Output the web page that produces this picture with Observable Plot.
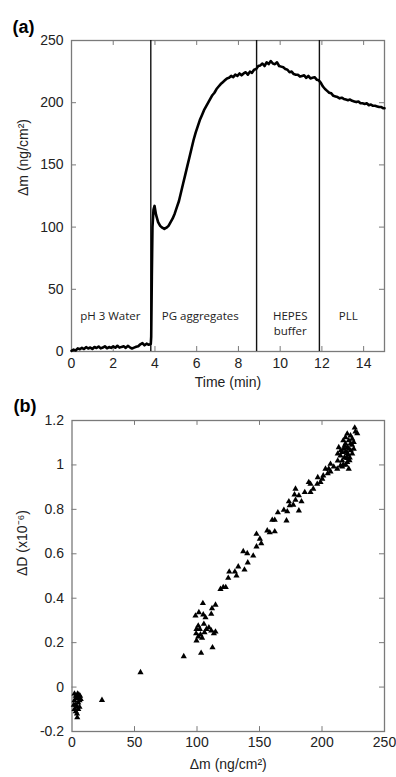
<!DOCTYPE html>
<html><head><meta charset="utf-8">
<script src="https://cdn.jsdelivr.net/npm/d3@7"></script>
<script src="https://cdn.jsdelivr.net/npm/@observablehq/plot@0.6"></script>
<style>
body{margin:0;background:#fff;}
#wrap{position:relative;width:396px;height:777px;overflow:hidden;background:#fff;}
#pa{position:absolute;left:0;top:0;}
#pb{position:absolute;left:0;top:380px;}
</style></head><body><div id="wrap"><div id="pb"></div><div id="pa"></div></div>
<script>
// ---------- Panel (a): mass vs time ----------
const timeMin = [0,0.1,0.2,0.3,0.4,0.5,0.6,0.7,0.8,0.9,1.0,1.1,1.2,1.3,1.4,1.5,1.6,1.7,1.8,1.9,2.0,2.1,2.2,2.3,2.4,2.5,2.6,2.7,2.8,2.9,3.0,3.1,3.2,3.3,3.4,3.5,3.6,3.7,3.8,
3.82,3.85,3.88,3.93,3.98,4.05,4.15,4.25,4.35,4.45,4.55,4.65,4.75,4.85,4.95,5.05,5.15,5.25,5.35,5.45,5.55,5.65,5.75,5.85,5.95,6.05,6.15,6.25,6.35,6.45,6.55,6.65,6.75,6.85,6.95,7.05,7.15,7.25,7.35,7.45,7.55,7.65,7.75,7.85,7.95,8.05,8.15,8.25,8.35,8.45,8.55,8.65,8.75,8.85,8.95,9.05,9.15,9.25,9.35,9.45,9.55,9.65,9.75,9.85,9.95,10.05,10.15,10.25,10.35,10.45,10.55,10.65,10.75,10.85,10.95,11.05,11.15,11.25,11.35,11.45,11.55,11.65,11.75,11.85,11.95,12.05,12.15,12.25,12.35,12.45,12.55,12.65,12.75,12.85,12.95,13.05,13.15,13.25,13.35,13.45,13.55,13.65,13.75,13.85,13.95,14.05,14.15,14.25,14.35,14.45,14.55,14.65,14.75,14.85,14.95,15.0];
const massNg = [0.5,1.5,0.8,2.5,1.8,3,2,3.5,2.4,3.2,2,3.6,2.8,4,2.5,3.2,4.2,2.6,3.6,2.9,4.1,3,4.6,3.1,3.7,4.2,2.9,4.5,3.4,2.4,3.1,3.8,4.2,5.8,6.8,5,6.3,5.4,6.1,
12,60,100,114,117,110,104,101,99.5,98.5,99.5,101,104,107,111,116,121,128,135,142,149,156,163,170,176,181,186,190,194,197,200,203,206,208,211,213,215,216.5,218,219.5,220,221.5,220.5,222.5,221.5,223.5,222,223.5,224.5,222.5,225,224,226.5,227,229.5,230,231.5,229.5,232.5,231,233.5,231.5,231,232.5,229.5,229,228.5,227,226.5,224.5,225,223,222.5,222.5,221,221.5,222,220,221.5,219.5,220,220.5,218.5,218,216,213,211,209.5,208,207.5,205.5,205,204.5,203.5,204,203,202.5,202,202.5,201.5,201,200.5,201,199.5,199.5,199,199.5,198,198.5,197.5,197.5,197,196.5,196.5,195.5,195.5,195];
const stepTimes = [3.8, 8.87, 11.88];
const phaseText = ["pH 3 Water","PG aggregates","HEPES","buffer","PLL"];
const phaseX = [1.86, 6.17, 10.48, 10.48, 13.26];
const phaseY = [28, 28, 28, 16.3, 28];
const xTicksA = [0,2,4,6,8,10,12,14];
const yTicksA = [0,50,100,150,200,250];

// ---------- Panel (b): dissipation vs mass ----------
const scatterDm = [2,3,4.5,5,6.5,2,3,5,6,4,2,3,5,4,4.2,6,3.5,7,1.5,5.5,
24,54.8,89.4,
103.3,112.4,104.7,114.8,112,101.5,98.8,105,106.8,111.4,105.5,101,99.6,102.3,109.5,111.4,114.8,113.5,106,99.3,101,104.1,99.6,102.8,107.6,
118.8,121,123,125,125.8,130.3,131.6,133,138,140.6,
137,140.2,145,147.6,151.4,150.3,147.6,156.2,158.2,162.2,160.2,162.2,171.6,164.7,169.5,172.2,174.2,177,181.5,173.5,178.8,183.6,178,181.5,178.8,186.2,190.8,193,189.4,190.8,196.2,198.8,196.6,200.2,201,204.6,206.8,
202.8,206.8,209.4,212.2,205.4,
226.2,228.2,220.2,222.8,224.2,221.4,218.8,222.8,213.4,217.4,221.4,225.4,216.2,220.2,224.2,214.8,218,222.2,216.2,220.2,217,221.4,216.2,212.6,212.6,220.2,225.4,218.8,
219,221,223,218,222,220,224,219,215,217,226.8,214.8];
const scatterDD = [-0.03,-0.04,-0.03,-0.05,-0.04,-0.06,-0.08,-0.07,-0.06,-0.09,-0.1,-0.11,-0.1,-0.12,-0.137,-0.09,-0.05,-0.055,-0.08,-0.035,
-0.059,0.066,0.138,
0.153,0.178,0.377,0.37,0.354,0.336,0.321,0.326,0.313,0.329,0.284,0.276,0.261,0.261,0.268,0.254,0.249,0.241,0.246,0.241,0.227,0.221,0.209,0.236,0.261,
0.441,0.449,0.449,0.491,0.519,0.519,0.501,0.542,0.528,0.56,
0.611,0.602,0.591,0.632,0.647,0.667,0.689,0.704,0.696,0.7,0.752,0.752,0.749,0.786,0.797,0.79,0.817,0.82,0.794,0.835,0.842,0.835,0.866,0.862,0.892,0.877,0.877,0.892,0.922,0.914,0.914,0.922,0.944,0.937,0.952,0.962,0.97,
0.982,1.004,0.992,0.982,0.982,
1.167,1.142,1.14,1.132,1.117,1.11,1.095,1.095,1.079,1.072,1.072,1.072,1.057,1.052,1.05,1.042,1.034,1.032,1.019,1.012,1.001,0.982,0.992,1.05,1.019,1.079,1.102,1.124,
1.06,1.045,1.065,1.085,1.02,1.03,1.09,1.0,1.065,1.11,1.15,0.997];
const xTicksB = [0,50,100,150,200,250];
const yTicksB = [-0.2,0,0.2,0.4,0.6,0.8,1,1.2];

const axisFont = "'Liberation Sans', Arial, Helvetica, sans-serif";
const annFont = "'Open Sans', 'Noto Sans', sans-serif";
const frameCol = "#7a7a7a";

const series = timeMin.map((t, i) => ({t, m: massNg[i]}));
const phases = phaseText.map((s, i) => ({s, x: phaseX[i], y: phaseY[i]}));

const chartA = Plot.plot({
  width: 396, height: 395,
  marginLeft: 71, marginRight: 12, marginTop: 40, marginBottom: 44,
  style: {fontFamily: axisFont, fontSize: "14px", color: "#222", background: "transparent", overflow: "visible"},
  x: {domain: [0, 15]},
  y: {domain: [0, 250]},
  marks: [
    Plot.axisX({ticks: xTicksA, tickSize: 0, tickPadding: 7, label: null, fontSize: 14}),
    Plot.axisY({ticks: yTicksA, tickSize: 0, tickPadding: 8, label: null, fontSize: 14}),
    Plot.ruleX(xTicksA.slice(1), {x: d => d, y1: 0, y2: 4, stroke: frameCol}),
    Plot.ruleX(xTicksA.slice(1), {x: d => d, y1: 246, y2: 250, stroke: frameCol}),
    Plot.ruleY(yTicksA.slice(1, -1), {y: d => d, x1: 0, x2: 0.24, stroke: frameCol}),
    Plot.ruleY(yTicksA.slice(1, -1), {y: d => d, x1: 14.76, x2: 15, stroke: frameCol}),
    Plot.frame({stroke: frameCol, strokeWidth: 1.3}),
    Plot.ruleX(stepTimes, {x: d => d, stroke: "#111", strokeWidth: 1.4}),
    Plot.line(series, {x: "t", y: "m", stroke: "#000", strokeWidth: 2.6, strokeLinejoin: "round"}),
    Plot.text(phases, {x: "x", y: "y", text: "s", fontFamily: annFont, fontSize: 11.5, fill: "#222"}),
    Plot.text(["(a)"], {text: d => d, frameAnchor: "top-left", dx: -59, dy: -20, textAnchor: "start", fontWeight: "bold", fontSize: 18, fill: "#000"}),
    Plot.text(["Time (min)"], {text: d => d, frameAnchor: "bottom", dy: 35, fontSize: 14, fill: "#222"}),
    Plot.text(["Δm (ng/cm²)"], {text: d => d, frameAnchor: "left", dx: -48, rotate: -90, fontSize: 14, fill: "#222"})
  ]
});
document.getElementById("pa").append(chartA);

const points = scatterDm.map((x, i) => ({x, y: scatterDD[i]}));

const chartB = Plot.plot({
  width: 396, height: 397,
  marginLeft: 71.5, marginRight: 12, marginTop: 40, marginBottom: 46,
  style: {fontFamily: axisFont, fontSize: "14px", color: "#222", background: "transparent", overflow: "visible"},
  x: {domain: [0, 250]},
  y: {domain: [-0.2, 1.2]},
  marks: [
    Plot.axisX({ticks: xTicksB, tickSize: 0, tickPadding: 6, label: null, fontSize: 14}),
    Plot.axisY({ticks: yTicksB, tickSize: 0, tickPadding: 8, label: null, fontSize: 14, tickFormat: d => String(+d.toFixed(1))}),
    Plot.ruleX(xTicksB.slice(1, -1), {x: d => d, y1: -0.2, y2: -0.178, stroke: frameCol}),
    Plot.ruleX(xTicksB.slice(1, -1), {x: d => d, y1: 1.178, y2: 1.2, stroke: frameCol}),
    Plot.ruleY(yTicksB.slice(1, -1), {y: d => d, x1: 0, x2: 4, stroke: frameCol}),
    Plot.ruleY(yTicksB.slice(1, -1), {y: d => d, x1: 246, x2: 250, stroke: frameCol}),
    Plot.frame({stroke: frameCol, strokeWidth: 1.3}),
    Plot.dot(points, {x: "x", y: "y", symbol: "triangle", r: 2.3, fill: "#000", stroke: "none"}),
    Plot.text(["(b)"], {text: d => d, frameAnchor: "top-left", dx: -58.5, dy: -21, textAnchor: "start", fontWeight: "bold", fontSize: 18, fill: "#000"}),
    Plot.text(["Δm (ng/cm²)"], {text: d => d, frameAnchor: "bottom", dy: 37, fontSize: 14, fill: "#222"}),
    Plot.text(["ΔD (x10⁻⁶)"], {text: d => d, frameAnchor: "left", dx: -49, rotate: -90, fontSize: 14, fill: "#222"})
  ]
});
document.getElementById("pb").append(chartB);
</script></body></html>
